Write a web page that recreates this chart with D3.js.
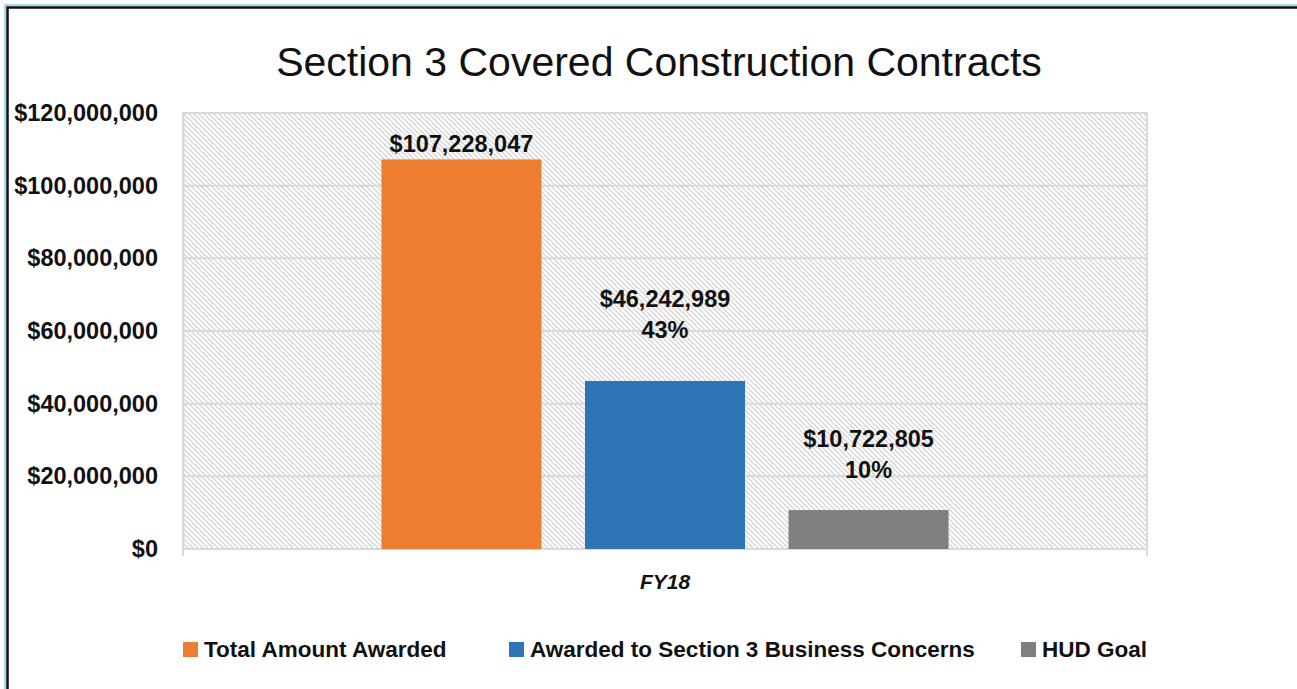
<!DOCTYPE html>
<html>
<head>
<meta charset="utf-8">
<script src="https://cdn.jsdelivr.net/npm/d3@7"></script>
<style>
  body { margin: 0; background: #fff; }
  svg { display: block; font-family: "Liberation Sans", Arial, sans-serif; }
</style>
</head>
<body>
<svg id="chart" width="1297" height="689"></svg>
<script>
// data
var categories = ["FY18"];
var seriesNames = ["Total Amount Awarded", "Awarded to Section 3 Business Concerns", "HUD Goal"];
var seriesValues = [107228047, 46242989, 10722805];
var seriesPercents = [null, "43%", "10%"];
var seriesColors = ["#ED7D31", "#2E75B6", "#7F7F7F"];
var yTicks = [0, 20000000, 40000000, 60000000, 80000000, 100000000, 120000000];

var W = 1297, H = 689;
const margin = { top: 113, right: 150, bottom: 140, left: 183 };

const svg = d3.select("#chart");

// outer frame (blue + black line, cut at right/bottom)
svg.append("path")
  .attr("d", `M5,${H} L5,5 L${W},5`)
  .attr("fill", "none").attr("stroke", "#7fd0f0").attr("stroke-width", 1.5);
svg.append("path")
  .attr("d", `M7.5,${H} L7.5,7.5 L${W},7.5`)
  .attr("fill", "none").attr("stroke", "#111").attr("stroke-width", 2.5);

// hatch pattern for plot area
const defs = svg.append("defs");
const pat = defs.append("pattern")
  .attr("id", "hatch")
  .attr("patternUnits", "userSpaceOnUse")
  .attr("width", 5).attr("height", 5);
pat.append("rect").attr("width", 5).attr("height", 5).attr("fill", "#fff");
pat.append("path")
  .attr("d", "M0,0 L5,5 M-1,4 L1,6 M4,-1 L6,1")
  .attr("stroke", "#d6d6d6").attr("stroke-width", 1.4);

var x0 = d3.scaleBand()
  .domain(categories)
  .range([margin.left, W - margin.right])
  .paddingInner(0).paddingOuter(0.35);

var x1 = d3.scaleBand()
  .domain(d3.range(seriesValues.length))
  .range([0, x0.bandwidth()])
  .paddingInner(0.214).paddingOuter(0);

var y = d3.scaleLinear()
  .domain([0, 120000000])
  .range([H - margin.bottom, margin.top]);

// title
svg.append("text")
  .attr("x", 659).attr("y", 76)
  .attr("text-anchor", "middle")
  .attr("font-size", 41)
  .attr("fill", "#111")
  .text("Section 3 Covered Construction Contracts");

// plot area
svg.append("rect")
  .attr("x", margin.left).attr("y", margin.top)
  .attr("width", W - margin.right - margin.left)
  .attr("height", y(0) - margin.top)
  .attr("fill", "url(#hatch)")
  .attr("stroke", "#d9d9d9").attr("stroke-width", 2);

// gridlines
svg.append("g")
  .selectAll("line")
  .data(yTicks)
  .enter().append("line")
  .attr("x1", margin.left).attr("x2", W - margin.right)
  .attr("y1", d => y(d)).attr("y2", d => y(d))
  .attr("stroke", "#d9d9d9").attr("stroke-width", 2);

// y axis labels
var yAxis = svg.append("g")
  .attr("transform", `translate(${margin.left},0)`)
  .call(d3.axisLeft(y).tickValues(yTicks).tickSize(0).tickPadding(25)
    .tickFormat(d => "$" + d3.format(",")(d)));
yAxis.select(".domain").attr("stroke", "#d9d9d9").attr("stroke-width", 2);
yAxis.selectAll("text")
  .attr("font-size", 23.5).attr("font-weight", "bold")
  .attr("font-family", "Liberation Sans, Arial, sans-serif")
  .attr("fill", "#111");

// x axis
var xAxis = svg.append("g")
  .attr("transform", `translate(0,${y(0)})`)
  .call(d3.axisBottom(x0).tickSize(0).tickPadding(25));
xAxis.select(".domain").remove();
xAxis.selectAll("text")
  .attr("font-size", 21).attr("font-weight", "bold").attr("font-style", "italic")
  .attr("font-family", "Liberation Sans, Arial, sans-serif")
  .attr("fill", "#111");
// category boundary ticks
svg.append("g")
  .selectAll("line")
  .data([margin.left, W - margin.right])
  .enter().append("line")
  .attr("x1", d => d).attr("x2", d => d)
  .attr("y1", y(0)).attr("y2", y(0) + 7)
  .attr("stroke", "#d9d9d9").attr("stroke-width", 2);

// bars
var bars = svg.append("g")
  .attr("transform", `translate(${x0("FY18")},0)`);
bars.selectAll("rect")
  .data(seriesValues)
  .enter().append("rect")
  .attr("x", (d, i) => x1(i))
  .attr("y", d => y(d))
  .attr("width", x1.bandwidth())
  .attr("height", d => y(0) - y(d))
  .attr("fill", (d, i) => seriesColors[i]);

// data labels (manually lifted above bars like the original)
var labelLift = [7, 74, 63];
var labels = bars.selectAll("text.val")
  .data(seriesValues)
  .enter().append("text")
  .attr("class", "val")
  .attr("x", (d, i) => x1(i) + x1.bandwidth() / 2)
  .attr("y", (d, i) => y(d) - labelLift[i])
  .attr("text-anchor", "middle")
  .attr("font-size", 23.5).attr("font-weight", "bold")
  .attr("fill", "#111");
labels.append("tspan")
  .text(d => "$" + d3.format(",")(d));
labels.append("tspan")
  .attr("x", (d, i) => x1(i) + x1.bandwidth() / 2)
  .attr("dy", 31)
  .text((d, i) => seriesPercents[i] || "");

// legend
var legendX = [183, 509, 1021];
var legend = svg.append("g")
  .selectAll("g")
  .data(seriesNames)
  .enter().append("g")
  .attr("transform", (d, i) => `translate(${legendX[i]},642)`);
legend.append("rect")
  .attr("width", 15).attr("height", 15)
  .attr("fill", (d, i) => seriesColors[i]);
legend.append("text")
  .attr("x", 21).attr("y", 15)
  .attr("font-size", 22.5).attr("font-weight", "bold")
  .attr("fill", "#111")
  .text(d => d);
</script>
</body>
</html>
